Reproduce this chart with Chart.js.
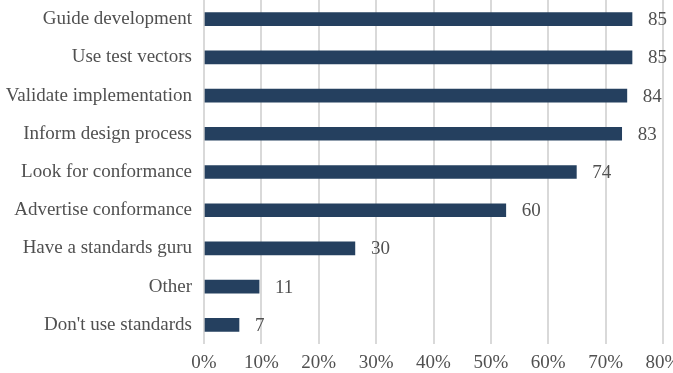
<!DOCTYPE html>
<html>
<head>
<meta charset="utf-8">
<script src="https://cdn.jsdelivr.net/npm/chart.js@4/dist/chart.umd.min.js"></script>
<style>
  html, body { margin: 0; padding: 0; background: #ffffff; overflow: hidden; }
  #wrap { width: 680px; height: 373px; }
</style>
</head>
<body>
<div id="wrap"><canvas id="c" width="680" height="373"></canvas></div>
<script>
const categories = ['Guide development', 'Use test vectors', 'Validate implementation', 'Inform design process', 'Look for conformance', 'Advertise conformance', 'Have a standards guru', 'Other', "Don't use standards"];
const percentValues = [74.6, 74.6, 73.7, 72.8, 64.9, 52.6, 26.3, 9.6, 6.1];
const countLabels = [85, 85, 84, 83, 74, 60, 30, 11, 7];
const xTickValues = [0, 10, 20, 30, 40, 50, 60, 70, 80];

const FONT = { family: '"Liberation Serif", "Times New Roman", serif', size: 19 };
const TEXT_COLOR = '#505050';

const valueLabels = {
  id: 'valueLabels',
  afterDatasetsDraw(chart) {
    const ctx = chart.ctx;
    const meta = chart.getDatasetMeta(0);
    ctx.save();
    ctx.font = FONT.size + 'px ' + FONT.family;
    ctx.fillStyle = TEXT_COLOR;
    ctx.textAlign = 'left';
    ctx.textBaseline = 'middle';
    meta.data.forEach((bar, i) => {
      ctx.fillText(String(countLabels[i]), bar.x + 16, bar.y + 1);
    });
    ctx.restore();
  }
};

new Chart(document.getElementById('c'), {
  type: 'bar',
  data: {
    labels: categories,
    datasets: [{
      data: percentValues,
      backgroundColor: '#25405f',
      borderWidth: 0,
      barThickness: 13
    }]
  },
  options: {
    indexAxis: 'y',
    responsive: false,
    animation: false,
    layout: { padding: { top: 0, left: 0, right: 17, bottom: 0 } },
    plugins: { legend: { display: false }, tooltip: { enabled: false } },
    scales: {
      x: {
        min: 0,
        max: 80,
        afterBuildTicks(scale) { scale.ticks = xTickValues.map(v => ({ value: v })); },
        afterFit(scale) {
          scale.height = 29;
          scale.paddingLeft = 0; scale.paddingRight = 0;
          scale.paddingTop = 0; scale.paddingBottom = 0;
        },
        grid: { color: '#d9d9d9', lineWidth: 2, drawTicks: false },
        border: { display: false },
        ticks: {
          font: FONT,
          color: TEXT_COLOR,
          padding: 8,
          maxRotation: 0,
          callback: (v) => v + '%'
        }
      },
      y: {
        afterFit(scale) {
          scale.width = 204;
          scale.paddingLeft = 0; scale.paddingRight = 0;
          scale.paddingTop = 0; scale.paddingBottom = 0;
        },
        grid: { display: false, drawTicks: false },
        border: { display: false },
        ticks: { font: FONT, color: TEXT_COLOR, padding: 12 }
      }
    }
  },
  plugins: [valueLabels]
});
</script>
</body>
</html>
